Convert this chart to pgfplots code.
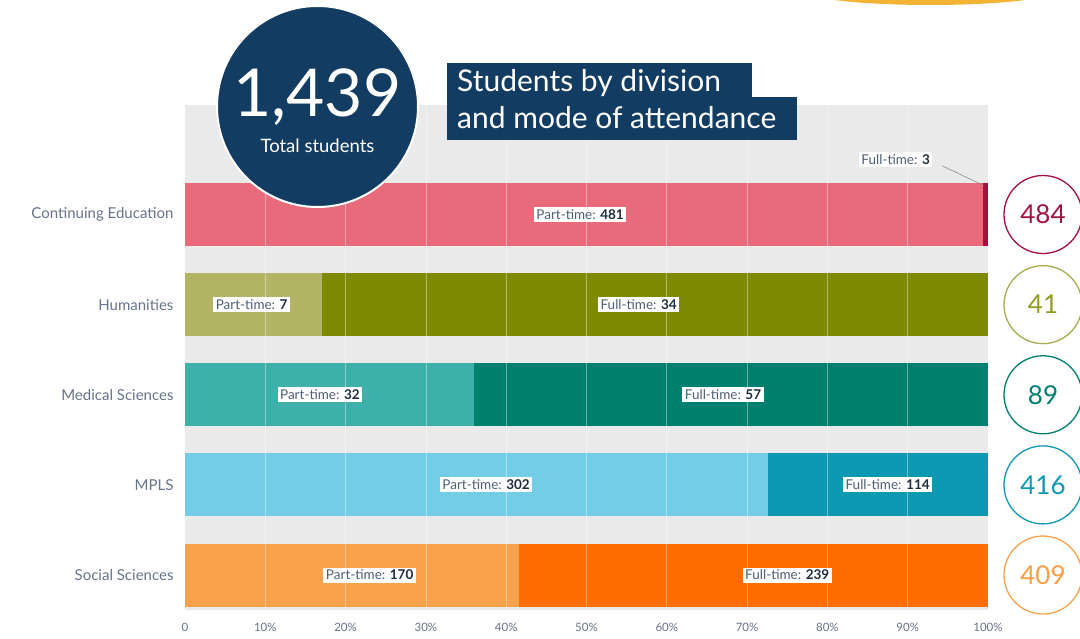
\documentclass[border=0pt]{standalone}
\usepackage{pgfplots}
\pgfplotsset{compat=1.18}
\usepackage{fontspec}
\setmainfont{Lato}
\definecolor{bggray}{HTML}{EAEAEA}
\definecolor{navy}{HTML}{123C61}
\definecolor{cePT}{HTML}{E96A7B}
\definecolor{ceFT}{HTML}{A3123F}
\definecolor{huPT}{HTML}{B3B565}
\definecolor{huFT}{HTML}{7E8A00}
\definecolor{mePT}{HTML}{3EB0AA}
\definecolor{meFT}{HTML}{00806F}
\definecolor{mpPT}{HTML}{74CDE6}
\definecolor{mpFT}{HTML}{0E98B2}
\definecolor{ssPT}{HTML}{F9A24D}
\definecolor{ssFT}{HTML}{FF6C00}
\definecolor{lbltext}{HTML}{4E5F78}
\definecolor{lblnum}{HTML}{1E2E40}
\definecolor{ticktext}{HTML}{66748A}
\definecolor{orangearc}{HTML}{F5B335}
\begin{document}
\begin{tikzpicture}
\useasboundingbox (0pt,0pt) rectangle (1080pt,638pt);
\fill[white] (0pt,0pt) rectangle (1080pt,638pt);
% decorative arc at top right
\fill[orangearc] (930pt,648pt) ellipse (128pt and 15pt);
\fill[white] (930pt,652pt) ellipse (118pt and 13pt);
\begin{axis}[
  at={(185pt,28pt)}, anchor=south west,
  width=803pt, height=505pt, scale only axis,
  xbar stacked, bar width=63pt,
  xmin=0, xmax=100,
  ymin=-1.215, ymax=4.388, y dir=reverse,
  ytick={0,1,2,3,4},
  yticklabels={Continuing Education,Humanities,Medical Sciences,MPLS,Social Sciences},
  xtick={0,10,...,100},
  xticklabels={0,10\%,20\%,30\%,40\%,50\%,60\%,70\%,80\%,90\%,100\%},
  axis line style={draw=none},
  major tick length=0pt,
  axis background/.style={fill=bggray},
  clip=false,
  tick label style={text=ticktext},
  xticklabel style={yshift=-10pt, font=\fontsize{11.5}{14}\selectfont},
  yticklabel style={xshift=-8pt, font=\fontsize{15}{17}\selectfont},
  every axis plot/.append style={draw=none},
]
% Part-time shares (%)
\addplot[fill=cePT] coordinates {(99.380,0) (0,1) (0,2) (0,3) (0,4)};
\addplot[fill=huPT] coordinates {(0,0) (17.073,1) (0,2) (0,3) (0,4)};
\addplot[fill=mePT] coordinates {(0,0) (0,1) (35.955,2) (0,3) (0,4)};
\addplot[fill=mpPT] coordinates {(0,0) (0,1) (0,2) (72.596,3) (0,4)};
\addplot[fill=ssPT] coordinates {(0,0) (0,1) (0,2) (0,3) (41.565,4)};
% Full-time shares (%)
\addplot[fill=ceFT] coordinates {(0.620,0) (0,1) (0,2) (0,3) (0,4)};
\addplot[fill=huFT] coordinates {(0,0) (82.927,1) (0,2) (0,3) (0,4)};
\addplot[fill=meFT] coordinates {(0,0) (0,1) (64.045,2) (0,3) (0,4)};
\addplot[fill=mpFT] coordinates {(0,0) (0,1) (0,2) (27.404,3) (0,4)};
\addplot[fill=ssFT] coordinates {(0,0) (0,1) (0,2) (0,3) (58.435,4)};
% anchor points for annotations drawn after the axis
\pgfplotsinvokeforeach{10,20,30,40,50,60,70,80,90}{
  \coordinate (gt#1) at (axis cs:#1,-1.215);
  \coordinate (gb#1) at (axis cs:#1,4.388);
}
\coordinate (a1) at (axis cs:49.2,0);
\coordinate (a2) at (axis cs:8.3,1);
\coordinate (a3) at (axis cs:56.5,1);
\coordinate (a4) at (axis cs:16.8,2);
\coordinate (a5) at (axis cs:67.0,2);
\coordinate (a6) at (axis cs:37.5,3);
\coordinate (a7) at (axis cs:87.5,3);
\coordinate (a8) at (axis cs:23.0,4);
\coordinate (a9) at (axis cs:75.0,4);
\coordinate (a10) at (axis cs:88.5,-0.605);
\coordinate (ls) at (axis cs:94.3,-0.54);
\coordinate (le) at (axis cs:99.5,-0.32);
\coordinate (t0) at (axis cs:106.85,0);
\coordinate (t1) at (axis cs:106.85,1);
\coordinate (t2) at (axis cs:106.85,2);
\coordinate (t3) at (axis cs:106.85,3);
\coordinate (t4) at (axis cs:106.85,4);
\end{axis}
% faint grid lines over bars
\foreach \g in {10,20,30,40,50,60,70,80,90} {
  \draw[white, opacity=0.4, line width=0.8pt] (gt\g) -- (gb\g);
}
\tikzset{lbl/.style={fill=white, inner sep=2.5pt, text=lbltext, font=\fontsize{13.5}{15}\selectfont}}
\node[lbl] at (a1) {Part-time: \textcolor{lblnum}{\textbf{481}}};
\node[lbl] at (a2) {Part-time: \textcolor{lblnum}{\textbf{7}}};
\node[lbl] at (a3) {Full-time: \textcolor{lblnum}{\textbf{34}}};
\node[lbl] at (a4) {Part-time: \textcolor{lblnum}{\textbf{32}}};
\node[lbl] at (a5) {Full-time: \textcolor{lblnum}{\textbf{57}}};
\node[lbl] at (a6) {Part-time: \textcolor{lblnum}{\textbf{302}}};
\node[lbl] at (a7) {Full-time: \textcolor{lblnum}{\textbf{114}}};
\node[lbl] at (a8) {Part-time: \textcolor{lblnum}{\textbf{170}}};
\node[lbl] at (a9) {Full-time: \textcolor{lblnum}{\textbf{239}}};
\node[lbl] at (a10) {Full-time: \textcolor{lblnum}{\textbf{3}}};
\draw[gray, line width=0.5pt] (ls) -- (le);
% totals
\tikzset{tot/.style={circle, line width=1.3pt, minimum size=78pt, inner sep=0pt, fill=white, font=\fontsize{26}{28}\selectfont}}
\node[tot, draw=ceFT, text=ceFT] at (t0) {484};
\node[tot, draw=huPT!80!huFT, text=huFT!85!white] at (t1) {41};
\node[tot, draw=meFT, text=meFT] at (t2) {89};
\node[tot, draw=mpFT, text=mpFT] at (t3) {416};
\node[tot, draw=ssPT, text=ssPT!90!ssFT] at (t4) {409};
% big total circle
\fill[navy, draw=white, line width=2pt] (317.5pt,531.5pt) circle (100.5pt);
\node[text=white, font=\fontsize{66}{70}\selectfont] at (317.5pt,541pt) {1,439};
\node[text=white, font=\fontsize{18.5}{20}\selectfont] at (317.5pt,492pt) {Total students};
% title
\fill[navy] (447pt,537pt) rectangle (752pt,575pt);
\fill[navy] (447pt,498pt) rectangle (797pt,541pt);
\node[anchor=west, text=white, font=\fontsize{30}{32}\selectfont, inner sep=0pt] at (457pt,555pt) {Students by division};
\node[anchor=west, text=white, font=\fontsize{30}{32}\selectfont, inner sep=0pt] at (457pt,520pt) {and mode of attendance};
\end{tikzpicture}
\end{document}
